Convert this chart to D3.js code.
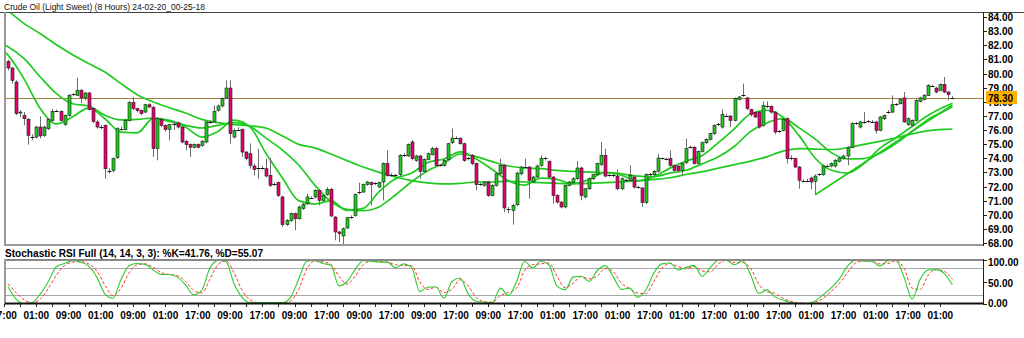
<!DOCTYPE html>
<html>
<head>
<meta charset="utf-8">
<script src="https://cdn.jsdelivr.net/npm/d3@7"></script>
<style>
    body { margin: 0; background: #fff; }
    svg { display: block; }
    text { font-family: "Liberation Sans", Arial, sans-serif; }
</style>
</head>
<body>
<div id="chart"></div>
<script>
// Candele da 8 ore (indice 1..235)
const candleOpen = [
    80.86,80.39,79.40,77.20,77.04,76.75,75.55,75.50,76.21,75.62,
    76.09,76.68,77.35,77.32,76.38,77.04,78.48,78.45,78.81,78.27,
    78.62,77.51,76.57,76.20,76.33,73.16,73.14,74.04,76.05,76.05,
    76.68,77.94,77.51,77.39,77.27,77.79,77.58,74.68,76.75,76.33,
    76.05,76.45,76.50,76.21,75.20,74.96,74.78,74.96,74.91,75.15,
    76.55,76.57,77.39,77.70,78.27,78.97,75.50,76.05,76.05,74.44,
    74.32,73.45,73.30,73.33,73.26,72.79,72.20,72.27,71.26,69.30,
    69.60,70.08,69.72,70.43,70.78,71.19,71.26,71.73,71.02,71.42,
    71.80,69.84,68.78,68.50,69.06,69.82,69.96,71.54,71.61,72.13,
    72.27,72.18,71.96,72.32,73.62,72.86,72.80,72.84,74.20,74.16,
    75.15,73.85,74.16,73.07,73.92,74.25,74.68,73.50,73.50,73.92,
    75.10,75.43,75.39,75.03,73.97,74.21,73.62,72.15,72.08,72.32,
    71.37,72.08,72.90,73.50,70.45,70.31,70.71,72.90,73.38,73.38,
    72.32,72.67,73.50,73.97,73.78,72.67,71.37,70.90,70.55,72.08,
    72.27,72.55,73.31,71.26,71.84,72.55,72.84,73.55,74.21,72.79,
    72.80,72.74,71.84,72.44,72.44,72.67,71.96,71.89,70.86,72.86,
    72.84,73.07,73.97,73.97,73.97,73.50,73.45,73.14,73.69,74.78,
    74.78,73.62,74.49,75.10,75.34,75.74,76.36,76.21,77.06,76.99,
    76.68,78.17,78.45,78.27,77.46,77.23,77.27,76.33,77.67,77.67,
    77.27,75.91,75.98,76.80,73.97,73.97,73.38,72.37,72.44,72.60,
    72.37,72.84,72.84,73.45,73.45,73.45,73.78,73.97,74.16,74.78,
    76.45,76.21,76.57,76.60,76.62,76.57,75.98,76.80,77.27,77.27,
    77.79,77.86,78.27,76.38,76.33,76.68,78.03,78.17,78.45,79.11,
    78.97,78.81,79.21,78.69,78.32
];
const candleHigh = [
    80.98,80.45,79.52,77.40,77.27,76.85,75.70,76.30,76.97,76.30,
    76.85,77.50,77.45,77.40,77.10,78.55,78.60,79.70,78.90,78.70,
    78.70,77.60,76.70,76.35,76.40,73.30,74.05,76.20,76.25,76.80,
    78.05,78.34,77.55,77.45,77.86,77.90,77.70,76.90,76.85,76.40,
    76.45,76.65,76.60,76.30,75.30,75.05,75.05,75.05,75.30,76.65,
    76.70,77.75,77.80,78.30,79.52,79.52,76.10,76.20,76.10,74.50,
    75.05,73.60,74.68,73.45,73.97,74.02,72.30,72.35,71.35,69.70,
    70.15,70.15,70.65,70.85,71.49,71.30,71.80,71.80,71.45,71.95,
    71.90,69.90,68.85,69.10,69.85,69.95,71.50,72.27,72.20,72.40,
    72.35,72.30,72.35,73.70,74.56,72.95,72.90,74.30,74.35,75.05,
    75.30,74.25,74.25,74.00,74.40,74.80,74.80,73.60,73.95,75.10,
    76.10,75.55,75.50,75.10,74.10,74.30,73.70,72.25,72.40,72.40,
    72.15,73.00,73.97,73.60,70.55,70.75,73.05,73.45,73.97,73.45,
    72.75,73.55,74.21,74.10,73.85,72.75,71.45,70.95,72.15,72.40,
    72.65,73.80,73.40,71.90,72.65,72.90,73.70,75.15,74.68,72.90,
    72.90,73.20,72.65,72.55,73.50,72.75,72.05,71.95,72.95,72.95,
    73.15,74.32,74.05,74.05,74.56,73.55,73.50,73.70,75.39,74.90,
    74.85,74.55,75.20,75.40,75.80,76.40,76.50,77.46,77.15,77.05,
    78.30,78.40,79.28,78.35,77.50,77.30,77.35,78.03,78.03,77.75,
    77.35,76.00,76.80,76.90,74.21,74.05,73.45,72.50,72.55,72.70,
    72.85,72.95,73.55,73.55,73.70,73.95,74.10,74.25,74.85,76.55,
    76.55,76.65,77.27,76.70,76.70,76.65,77.00,77.10,77.40,78.45,
    77.90,78.27,78.69,76.90,76.75,78.20,78.35,78.55,79.25,79.20,
    79.05,79.30,79.75,78.75,78.40
];
const candleLow = [
    80.22,79.28,77.05,76.90,76.33,74.96,75.27,75.40,75.40,75.50,
    76.00,76.60,77.30,76.60,76.30,76.95,78.40,78.40,77.90,78.10,
    77.40,76.50,76.10,76.05,72.55,72.90,73.00,73.95,75.95,75.95,
    76.60,77.40,77.25,77.05,77.20,77.55,74.09,73.85,76.20,75.90,
    75.27,76.00,76.10,75.05,74.56,74.09,74.70,74.70,74.80,75.05,
    76.45,76.50,77.30,77.60,78.20,75.03,75.40,75.90,74.09,73.85,
    73.26,72.79,72.55,73.20,72.65,71.96,72.05,71.26,69.13,69.20,
    69.50,68.90,69.65,70.35,70.70,71.10,71.15,70.67,70.95,71.35,
    69.85,68.19,68.07,67.90,69.00,69.70,69.85,71.45,71.55,72.05,
    70.67,72.10,71.90,71.02,72.70,72.70,72.65,72.75,74.10,74.10,
    73.85,73.75,72.55,73.00,73.85,74.20,73.40,73.40,73.40,73.85,
    75.00,75.35,74.95,73.75,73.85,73.50,71.73,72.05,72.00,71.26,
    71.30,72.00,72.80,70.19,70.10,69.30,70.60,72.80,73.30,71.14,
    72.25,72.60,73.40,73.85,72.55,70.78,70.80,70.45,70.45,72.00,
    72.20,72.45,71.02,71.15,71.75,72.45,72.75,73.45,72.65,72.70,
    72.65,71.75,71.75,72.35,72.35,71.85,71.85,70.55,70.75,72.75,
    72.75,73.00,73.90,73.85,73.40,73.05,73.05,72.79,73.60,74.70,
    73.55,73.55,74.40,75.00,75.25,75.65,76.30,76.10,76.95,76.20,
    76.60,78.10,78.35,77.40,76.95,76.85,76.10,76.25,77.55,77.15,
    75.70,75.80,75.90,73.62,73.85,73.30,71.84,72.30,72.35,71.80,
    71.42,72.75,72.75,73.35,73.35,73.35,73.70,73.90,73.50,74.70,
    76.35,76.10,76.45,76.50,76.50,75.74,75.90,76.70,77.15,77.20,
    77.70,77.80,76.50,76.30,76.20,76.60,77.95,78.10,78.40,79.05,
    78.60,78.75,78.60,78.10,78.20
];
const candleClose = [
    80.39,79.52,77.16,77.27,76.80,75.62,75.50,76.21,75.58,76.21,
    76.75,77.32,77.38,76.68,77.04,78.45,78.52,78.81,78.27,78.62,
    77.46,76.61,76.21,76.23,73.26,73.12,73.97,76.09,76.10,76.68,
    77.94,77.51,77.37,77.16,77.79,77.63,74.68,76.80,76.33,76.05,
    76.38,76.42,76.21,75.15,74.96,74.78,74.98,74.78,75.20,76.57,
    76.58,77.32,77.70,78.22,78.97,75.74,75.98,76.02,74.44,73.97,
    73.50,73.21,73.33,73.31,72.74,72.08,72.18,71.37,69.30,69.60,
    70.08,69.72,70.55,70.74,71.26,71.22,71.73,71.02,71.37,71.80,
    69.91,68.78,68.66,69.01,69.79,69.86,71.42,71.58,72.13,72.32,
    72.13,72.22,72.27,73.62,72.79,72.82,72.78,74.21,74.23,74.98,
    73.97,74.16,73.07,73.92,74.32,74.68,73.50,73.52,73.85,75.03,
    75.43,75.45,75.03,73.85,73.99,73.62,72.13,72.17,72.32,71.37,
    72.08,72.90,73.50,70.48,70.41,70.67,72.95,73.38,73.40,72.44,
    72.67,73.45,73.97,73.99,72.67,71.37,70.90,70.55,72.08,72.32,
    72.55,73.31,71.37,71.84,72.55,72.84,73.62,74.21,72.74,72.81,
    72.78,71.84,72.55,72.46,72.79,71.96,71.94,70.86,72.84,72.88,
    73.07,74.02,73.99,73.95,73.50,73.14,73.14,73.62,74.68,74.80,
    73.62,74.49,75.10,75.34,75.74,76.33,76.40,77.09,77.02,76.68,
    78.22,78.34,78.48,77.51,77.09,76.92,76.21,77.75,77.70,77.27,
    75.86,75.93,76.73,73.97,74.00,73.38,72.44,72.39,72.42,72.32,
    72.74,72.86,73.45,73.47,73.62,73.85,74.02,74.16,74.73,76.45,
    76.47,76.57,76.59,76.62,76.60,75.98,76.92,77.04,77.29,77.79,
    77.81,78.17,76.57,76.80,76.68,78.10,78.27,78.45,79.16,79.13,
    78.69,79.21,78.69,78.50,78.30
];

const maIndex = [0].concat(d3.range(1, 234, 4), [235]);
const maSlow = [
    84.55,84.40,83.53,82.82,82.04,81.33,80.70,80.10,79.28,78.50,
    77.98,77.58,77.20,76.75,76.52,76.38,76.30,76.12,75.58,74.98,
    74.73,74.30,73.83,73.38,73.00,72.67,72.41,72.25,72.18,72.22,
    72.32,72.32,72.37,72.32,72.27,72.22,72.20,72.22,72.27,72.32,
    72.41,72.50,72.62,72.85,73.05,73.30,73.55,73.80,74.10,74.50,
    74.68,74.65,74.62,74.75,74.98,75.20,75.45,75.72,75.95,76.05,
    76.07
];
const maMid = [
    82.05,81.90,81.05,79.75,78.57,77.86,77.70,77.04,76.71,76.75,
    76.85,76.68,76.33,76.14,76.33,76.52,76.24,75.41,74.58,73.52,
    72.10,70.93,70.38,70.29,70.57,71.40,72.34,73.12,73.64,74.30,
    74.11,73.76,73.45,73.31,73.26,73.14,73.07,73.02,72.98,72.90,
    72.74,72.70,72.95,73.15,73.60,74.10,74.85,75.90,76.50,76.80,
    76.15,75.35,74.40,73.95,73.98,74.35,75.05,75.90,76.75,77.35,
    77.65
];
const maFast = [
    81.60,81.30,79.60,77.50,76.43,76.94,77.55,76.80,75.85,75.80,
    76.82,76.60,76.20,75.50,75.90,76.70,76.20,74.30,72.60,71.00,
    70.75,71.00,70.30,70.45,71.65,72.55,72.95,73.70,73.95,74.45,
    73.95,73.20,72.40,72.10,72.60,72.50,72.20,72.50,73.00,72.80,
    72.40,72.70,73.30,73.80,74.20,75.10,76.10,77.15,77.40,76.90,
    75.60,74.00,73.15,72.95,73.60,74.70,75.45,76.25,77.05,77.65,
    77.90
];

// Linea di tendenza (dal minimo fino all'ultima candela)
const trendIndex = [201, 235];
const trendValue = [71.42, 77.77];

// Stochastic RSI, campionato ogni 2 candele (indici 1,3,...,235)
const stochIndex = d3.range(1, 236, 2);
const stochK = [
    38,10,0,2,22,50,84,91,97,94, 85,60,22,12,55,86,91,89,76,66,
    66,60,42,20,30,80,98,95,45,14, 2,2,2,2,2,14,55,96,98,91,
    87,40,50,77,97,96,94,94,81,90, 82,27,37,38,12,50,58,22,5,3,
    2,35,18,50,96,81,96,88,40,31, 60,62,50,75,86,60,32,35,14,30,
    69,90,92,76,82,86,62,82,98,98, 88,97,65,23,31,15,8,2,0,0,
    6,20,36,56,85,98,96,96,85,97, 98,60,10,55,76,77,68,42
];
const stochD = [
    45,25,8,2,10,35,65,86,94,95, 90,74,42,18,35,70,88,90,82,70,
    66,63,50,30,24,55,88,97,70,30, 8,2,2,2,2,6,32,78,96,95,
    89,62,44,62,88,96,95,94,88,86, 86,50,32,37,25,32,54,40,14,4,
    3,18,25,35,75,88,90,92,62,36, 46,61,56,62,80,72,46,34,24,22,
    50,80,91,84,79,84,74,72,90,98, 93,93,80,44,27,23,12,5,1,0,
    3,12,28,46,70,92,97,96,90,91, 97,80,35,32,65,77,73,55
];

// Etichette asse tempo, una ogni 8 candele
const timeLabels = [
    "17:00","01:00","09:00","01:00","09:00","01:00","17:00","09:00","17:00","09:00",
    "17:00","09:00","17:00","09:00","17:00","09:00","17:00","01:00","17:00","01:00",
    "17:00","01:00","17:00","01:00","17:00","01:00","17:00","01:00","17:00","01:00"
];
const priceTicks = d3.range(68, 85, 1);
const stochTicks = [100, 50, 0];
const lastPrice = 78.30;

const width = 1024;
const height = 338;
const left = 5, right = 983;

const svg = d3.select("#chart")
    .append("svg")
    .attr("width", width)
    .attr("height", height);

const x = d3.scaleLinear().domain([0, 235]).range([4, 4 + 235 * 4.036]);
const y = d3.scaleLinear().domain([68, 84]).range([243, 17]);
const ys = d3.scaleLinear().domain([0, 100]).range([303.5, 259.5]);

const green = "#1ecb1e";
const red = "#e8006e";

// Titoli
svg.append("text")
    .attr("x", 4).attr("y", 9.5)
    .attr("font-size", 9.5)
    .attr("fill", "#111")
    .attr("textLength", 201)
    .attr("lengthAdjust", "spacingAndGlyphs")
    .text("Crude Oil (Light Sweet) (8 Hours) 24-02-20_00-25-18");

svg.append("text")
    .attr("x", 5).attr("y", 256.5)
    .attr("font-size", 10)
    .attr("font-weight", "bold")
    .attr("textLength", 258)
    .attr("lengthAdjust", "spacingAndGlyphs")
    .text("Stochastic RSI Full (14, 14, 3, 3): %K=41.76, %D=55.07");

const defs = svg.append("defs");
defs.append("clipPath").attr("id", "clipMain")
    .append("rect").attr("x", left).attr("y", 12).attr("width", right - left).attr("height", 233);
defs.append("clipPath").attr("id", "clipStoch")
    .append("rect").attr("x", left).attr("y", 260).attr("width", right - left).attr("height", 43);

const main = svg.append("g").attr("clip-path", "url(#clipMain)");

// Linea dell'ultimo prezzo
main.append("line")
    .attr("x1", left).attr("x2", right)
    .attr("y1", Math.round(y(lastPrice)) + 0.5).attr("y2", Math.round(y(lastPrice)) + 0.5)
    .attr("stroke", "#a0823c").attr("stroke-width", 1);

// Medie mobili
const maLine = d3.line()
    .x(d => x(d[0]))
    .y(d => y(d[1]))
    .curve(d3.curveMonotoneX);

[maSlow, maMid, maFast].forEach(values => {
    main.append("path")
        .datum(maIndex.map((i, k) => [i, values[k]]))
        .attr("d", maLine)
        .attr("fill", "none")
        .attr("stroke", green)
        .attr("stroke-width", 1.7);
});

main.append("path")
    .datum(trendIndex.map((i, k) => [i, trendValue[k]]))
    .attr("d", d3.line().x(d => x(d[0])).y(d => y(d[1])))
    .attr("fill", "none")
    .attr("stroke", green)
    .attr("stroke-width", 1.7);

// Candele
const candles = candleOpen.map((o, k) => ({
    i: k + 1, o: o, h: candleHigh[k], l: candleLow[k], c: candleClose[k]
}));

main.selectAll(".wick")
    .data(candles)
    .join("line")
    .attr("class", "wick")
    .attr("x1", d => Math.round(x(d.i)) + 0.5)
    .attr("x2", d => Math.round(x(d.i)) + 0.5)
    .attr("y1", d => y(d.h))
    .attr("y2", d => y(d.l))
    .attr("stroke", "#6e6e6e")
    .attr("stroke-width", 1);

const bodies = candles.filter(d => Math.abs(d.o - d.c) >= 0.06);
const dojis = candles.filter(d => Math.abs(d.o - d.c) < 0.06);

main.selectAll(".body")
    .data(bodies)
    .join("rect")
    .attr("class", "body")
    .attr("x", d => Math.round(x(d.i)) - 1)
    .attr("y", d => y(Math.max(d.o, d.c)))
    .attr("width", 3)
    .attr("height", d => Math.abs(y(d.o) - y(d.c)))
    .attr("fill", d => d.c > d.o ? green : red)
    .attr("stroke", "#1a1a1a")
    .attr("stroke-width", 0.6);

main.selectAll(".doji")
    .data(dojis)
    .join("line")
    .attr("class", "doji")
    .attr("x1", d => Math.round(x(d.i)) - 1.5)
    .attr("x2", d => Math.round(x(d.i)) + 2.5)
    .attr("y1", d => Math.round(y(d.c)) + 0.5)
    .attr("y2", d => Math.round(y(d.c)) + 0.5)
    .attr("stroke", "#111")
    .attr("stroke-width", 1);

// Cornice pannello principale
svg.append("line").attr("x1", 0).attr("x2", width).attr("y1", 12.5).attr("y2", 12.5).attr("stroke", "#444");
svg.append("line").attr("x1", left).attr("x2", left).attr("y1", 12).attr("y2", 246).attr("stroke", "#999").attr("stroke-width", 2);
svg.append("line").attr("x1", right + 0.5).attr("x2", right + 0.5).attr("y1", 12).attr("y2", 246).attr("stroke", "#222");
svg.append("line").attr("x1", left).attr("x2", right).attr("y1", 245).attr("y2", 245).attr("stroke", "#999").attr("stroke-width", 2);

// Asse prezzi
const priceAxis = svg.append("g");
priceAxis.selectAll("line")
    .data(priceTicks)
    .join("line")
    .attr("x1", right).attr("x2", right + 4)
    .attr("y1", d => Math.round(y(d)) + 0.5)
    .attr("y2", d => Math.round(y(d)) + 0.5)
    .attr("stroke", "#222");
priceAxis.selectAll("text")
    .data(priceTicks)
    .join("text")
    .attr("x", 988)
    .attr("y", d => y(d) + 4)
    .attr("font-size", 10)
    .attr("font-weight", "bold")
    .attr("fill", "#000")
    .text(d => d3.format(".2f")(d));

// Etichetta ultimo prezzo
svg.append("rect")
    .attr("x", 986).attr("y", y(lastPrice) - 6.5)
    .attr("width", 31).attr("height", 13)
    .attr("fill", "#ffb000");
svg.append("text")
    .attr("x", 988).attr("y", y(lastPrice) + 4)
    .attr("font-size", 10).attr("font-weight", "bold")
    .text(d3.format(".2f")(lastPrice));

// Pannello Stochastic RSI
const stoch = svg.append("g").attr("clip-path", "url(#clipStoch)");

[80, 20].forEach(level => {
    stoch.append("line")
        .attr("x1", left).attr("x2", right)
        .attr("y1", Math.round(ys(level)) + 0.5).attr("y2", Math.round(ys(level)) + 0.5)
        .attr("stroke", "#a8a8a8");
});

const stochLine = d3.line()
    .x(d => x(d[0]))
    .y(d => ys(d[1]))
    .curve(d3.curveMonotoneX);

stoch.append("path")
    .datum(stochIndex.map((i, k) => [i, stochD[k]]))
    .attr("d", stochLine)
    .attr("fill", "none")
    .attr("stroke", "#ff3030")
    .attr("stroke-width", 1)
    .attr("stroke-dasharray", "3,2");

stoch.append("path")
    .datum(stochIndex.map((i, k) => [i, stochK[k]]))
    .attr("d", stochLine)
    .attr("fill", "none")
    .attr("stroke", "#2ecc2e")
    .attr("stroke-width", 1.1);

svg.append("line").attr("x1", left).attr("x2", right).attr("y1", 260).attr("y2", 260).attr("stroke", "#888").attr("stroke-width", 2);
svg.append("line").attr("x1", left).attr("x2", left).attr("y1", 259).attr("y2", 304).attr("stroke", "#999").attr("stroke-width", 2);
svg.append("line").attr("x1", right + 0.5).attr("x2", right + 0.5).attr("y1", 259).attr("y2", 304).attr("stroke", "#222");
svg.append("line").attr("x1", left).attr("x2", right + 1).attr("y1", 303.5).attr("y2", 303.5).attr("stroke", "#111").attr("stroke-width", 2);

const stochAxis = svg.append("g");
stochAxis.selectAll("line")
    .data(stochTicks)
    .join("line")
    .attr("x1", right).attr("x2", right + 4)
    .attr("y1", d => Math.round(ys(d)) + 0.5)
    .attr("y2", d => Math.round(ys(d)) + 0.5)
    .attr("stroke", "#222");
stochAxis.selectAll("text")
    .data(stochTicks)
    .join("text")
    .attr("x", 988)
    .attr("y", d => ys(d) + (d === 100 ? 6 : d === 0 ? 3 : 5))
    .attr("font-size", 10)
    .attr("font-weight", "bold")
    .text(d => d3.format(".2f")(d));

// Asse tempo
const timeAxis = svg.append("g");
timeAxis.selectAll("line")
    .data(d3.range(0, 236, 4))
    .join("line")
    .attr("x1", d => Math.round(x(d)) + 0.5)
    .attr("x2", d => Math.round(x(d)) + 0.5)
    .attr("y1", 304).attr("y2", 307)
    .attr("stroke", "#222");
timeAxis.selectAll("text")
    .data(timeLabels)
    .join("text")
    .attr("x", (d, j) => x(j * 8))
    .attr("y", 319)
    .attr("text-anchor", "middle")
    .attr("font-size", 10)
    .attr("font-weight", "bold")
    .text(d => d);
</script>
</body>
</html>
